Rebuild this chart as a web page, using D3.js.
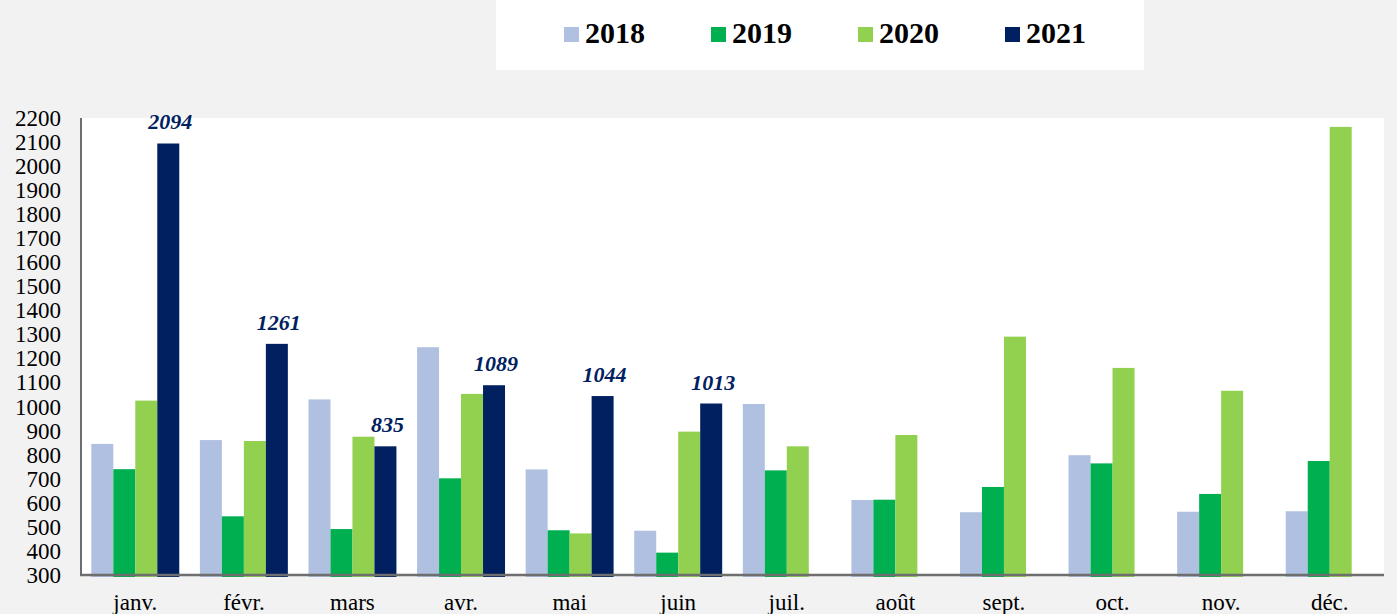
<!DOCTYPE html>
<meta charset="utf-8">
<style>
body { margin: 0; background: #f2f2f2; }
svg { display: block; font-family: "Liberation Serif", "Times New Roman", serif; }
.axis text { fill: #000; font-size: 23px; font-family: "Liberation Serif", serif; }
.axis path { stroke: #6e6e6e; stroke-width: 2px; }
.axis--x path { stroke-width: 2.5px; }
.label { fill: #002060; font-size: 22px; font-weight: bold; font-style: italic; text-anchor: middle; }
.legend text { font-size: 30px; font-weight: bold; fill: #000; }
</style>
<svg width="1397" height="614"></svg>
<script src="https://cdn.jsdelivr.net/npm/d3@7"></script>
<script>

var months = ["janv.", "févr.", "mars", "avr.", "mai", "juin", "juil.", "août", "sept.", "oct.", "nov.", "déc."];
var years = ["2018", "2019", "2020", "2021"];
var colors = ["#afc0e1", "#00b050", "#92d050", "#002060"];

var v2018 = [845, 861, 1030, 1247, 739, 484, 1011, 612, 561, 798, 563, 565];
var v2019 = [740, 544, 491, 702, 486, 393, 735, 613, 666, 764, 637, 774];
var v2020 = [1025, 857, 875, 1053, 473, 896, 835, 882, 1291, 1161, 1066, 2163];
var v2021 = [2094, 1261, 835, 1089, 1044, 1013];

var yTicks = d3.range(300, 2201, 100);

var svg = d3.select("svg");
var plot = {left: 81, right: 1384, top: 118, bottom: 575};

var series = [v2018, v2019, v2020, v2021];

var x0 = d3.scaleBand().domain(months).range([plot.left, plot.right]).paddingInner(0.19).paddingOuter(0.095),
    x1 = d3.scaleBand().domain(years).range([0, x0.bandwidth()]),
    y = d3.scaleLinear().domain([300, 2200]).range([plot.bottom, plot.top]);

// legend box
svg.append("rect")
    .attr("x", 496).attr("y", 0)
    .attr("width", 648).attr("height", 70)
    .attr("fill", "#fff");

var legend = svg.append("g").attr("class", "legend")
  .selectAll("g")
  .data(years)
  .enter().append("g")
    .attr("transform", function(d, i) { return "translate(" + (564 + i * 147) + ",0)"; });

legend.append("rect")
    .attr("y", 27).attr("width", 15).attr("height", 15)
    .attr("fill", function(d, i) { return colors[i]; });

legend.append("text")
    .attr("x", 21).attr("y", 43)
    .text(function(d) { return d; });

// plot area
svg.append("rect")
    .attr("x", plot.left).attr("y", plot.top)
    .attr("width", plot.right - plot.left).attr("height", plot.bottom - plot.top)
    .attr("fill", "#fff");

var data = [];
months.forEach(function(m, i) {
  years.forEach(function(yr, j) {
    var v = series[j][i];
    if (v !== undefined) data.push({month: m, year: yr, idx: j, value: v});
  });
});

svg.append("g")
  .selectAll("rect")
  .data(data)
  .enter().append("rect")
    .attr("x", function(d) { return x0(d.month) + x1(d.year); })
    .attr("y", function(d) { return y(d.value); })
    .attr("width", x1.bandwidth())
    .attr("height", function(d) { return y(300) - y(d.value) + 2; })
    .attr("fill", function(d) { return colors[d.idx]; });

svg.append("g")
  .selectAll("text")
  .data(data.filter(function(d) { return d.year === "2021"; }))
  .enter().append("text")
    .attr("class", "label")
    .attr("x", function(d) { return x0(d.month) + x1(d.year) + x1.bandwidth() / 2 + 2; })
    .attr("y", function(d) { return y(d.value) - 14; })
    .text(function(d) { return d.value; });

svg.append("g")
    .attr("class", "axis axis--y")
    .attr("transform", "translate(" + plot.left + ",0)")
    .call(d3.axisLeft(y).tickValues(yTicks).tickSize(0).tickPadding(20).tickFormat(d3.format("d")))
    .call(function(g) { g.select(".domain").attr("d", "M0," + plot.top + "V" + plot.bottom); });

svg.append("g")
    .attr("class", "axis axis--x")
    .attr("transform", "translate(0," + plot.bottom + ")")
    .call(d3.axisBottom(x0).tickSize(0).tickPadding(19))
    .call(function(g) { g.select(".domain").attr("d", "M" + (plot.left - 1) + ",0H" + plot.right); });

</script>
